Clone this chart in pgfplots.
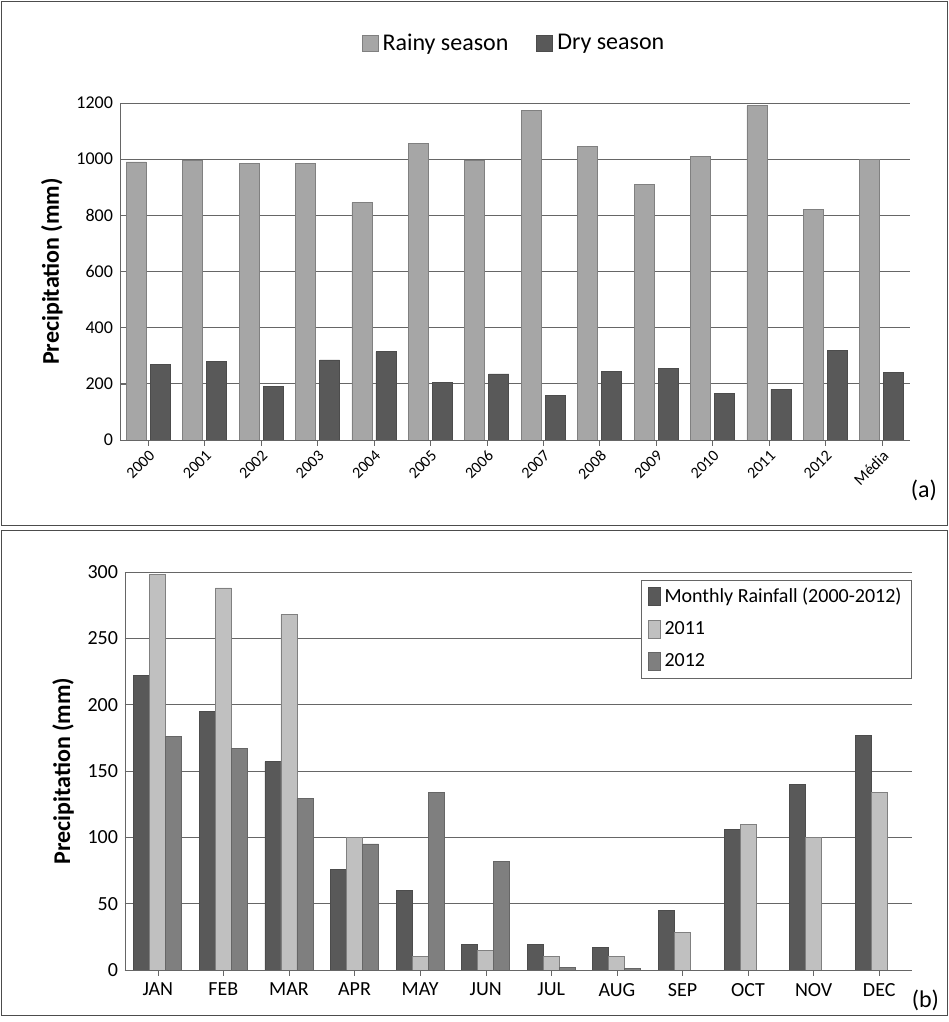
\documentclass[border=0pt]{standalone}
\usepackage{pgfplots}
\pgfplotsset{compat=1.18}
\usepackage{fontspec}
\setmainfont{Carlito}
\definecolor{light}{HTML}{A6A6A6}
\definecolor{dark}{HTML}{595959}
\definecolor{lighter}{HTML}{C0C0C0}
\definecolor{mid}{HTML}{7F7F7F}
\begin{document}
\begin{tikzpicture}[x=1pt,y=1pt]
\path[use as bounding box] (0,0) rectangle (474,511);
\draw[black!70] (0.5,248.5) rectangle (473.5,510.5);
\draw[black!70] (0.5,3.5) rectangle (473.5,246);
\node[anchor=east,font=\large] at (472,266) {(a)};
\node[anchor=east,font=\large] at (473,11) {(b)};
\begin{axis}[at={(60pt,291pt)},anchor=south west,scale only axis,width=395pt,height=168.5pt,
  ybar,bar width=10pt,ymin=0,ymax=1200,ytick={0,200,...,1200},
  xmin=-0.5,xmax=13.5,xtick=data,
  xticklabels={2000,2001,2002,2003,2004,2005,2006,2007,2008,2009,2010,2011,2012,Média},
  x tick label style={rotate=45,anchor=north east,font=\footnotesize,inner sep=1pt},
  y tick label style={font=\small},
  /pgf/number format/assume math mode=true,/pgf/number format/1000 sep={},
  ymajorgrids,grid style={black!60},axis x line*=bottom,axis y line*=left,
  axis line style={black!60},tick style={black!60},major tick length=3pt,
  ylabel={\bfseries Precipitation (mm)},ylabel style={font=\large},
  legend style={at={(0.5,1.23)},anchor=north,draw=none,legend columns=2,font=\large,/tikz/every even column/.append style={column sep=12pt}},
  legend image code/.code={\draw[#1] (0pt,-4pt) rectangle (8pt,4pt);}]
\addplot[fill=light,draw=black!50] coordinates {(0,990)(1,995)(2,985)(3,985)(4,845)(5,1055)(6,995)(7,1175)(8,1045)(9,910)(10,1010)(11,1190)(12,820)(13,1000)};
\addplot[fill=dark,draw=black!70] coordinates {(0,270)(1,280)(2,190)(3,285)(4,315)(5,205)(6,235)(7,160)(8,245)(9,255)(10,165)(11,180)(12,320)(13,240)};
\legend{Rainy season,Dry season}
\end{axis}
\begin{axis}[at={(62.5pt,26pt)},anchor=south west,scale only axis,width=393.5pt,height=199pt,
  ybar=0pt,bar width=8pt,ymin=0,ymax=300,ytick={0,50,...,300},
  xmin=-0.5,xmax=11.5,xtick=data,
  xticklabels={JAN,FEB,MAR,APR,MAY,JUN,JUL,AUG,SEP,OCT,NOV,DEC},
  x tick label style={font=\normalsize},y tick label style={font=\normalsize},
  /pgf/number format/assume math mode=true,
  ymajorgrids,grid style={black!60},axis x line*=bottom,axis y line*=left,
  axis line style={black!60},tick style={black!60},major tick length=3pt,
  ylabel={\bfseries Precipitation (mm)},ylabel style={font=\large},
  legend style={at={(1.0,0.98)},anchor=north east,draw=black!60,font=\normalsize,row sep=4pt},
  legend cell align=left,
  legend image code/.code={\draw[#1] (0pt,-4pt) rectangle (6pt,5pt);}]
\addplot[fill=dark,draw=black!70] coordinates {(0,222)(1,195)(2,157)(3,76)(4,60)(5,19)(6,19)(7,17)(8,45)(9,106)(10,140)(11,177)};
\addplot[fill=lighter,draw=black!50] coordinates {(0,298)(1,288)(2,268)(3,100)(4,10)(5,15)(6,10)(7,10)(8,28)(9,110)(10,100)(11,134)};
\addplot[fill=mid,draw=black!60] coordinates {(0,176)(1,167)(2,129)(3,95)(4,134)(5,82)(6,2)(7,1)};
\legend{Monthly Rainfall (2000-2012),2011,2012}
\end{axis}
\end{tikzpicture}
\end{document}
